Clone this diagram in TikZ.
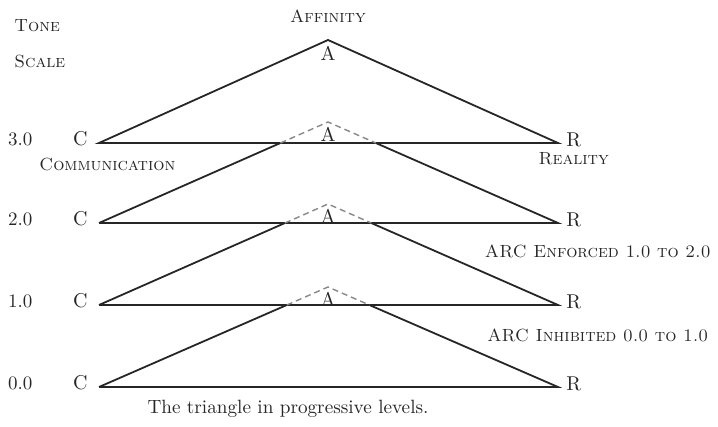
\documentclass[tikz,border=0pt]{standalone}
\usetikzlibrary{positioning}
\definecolor{ink}{gray}{0.15}
\tikzset{
  side/.style={draw=ink, line width=0.9pt},
  hidden/.style={draw=ink!55, line width=0.7pt, dashed, dash pattern=on 3pt off 2pt},
  corner/.style={text=ink, font=\fontsize{10}{12}\selectfont, inner sep=0pt},
  tone/.style={text=ink, font=\fontsize{9.5}{11}\selectfont, inner sep=0pt},
  sclabel/.style={text=ink, font=\fontsize{8.8}{11}\selectfont\scshape, inner sep=0pt},
  caption/.style={text=ink, font=\fontsize{9.6}{12}\selectfont, inner sep=0pt}
}
\begin{document}
\begin{tikzpicture}[x=0.5pt, y=-0.5pt, node distance=5pt]
    \useasboundingbox (0,0) rectangle (718,427);
    % corners of the four triangles
    \coordinate (c3) at (99,143);
    \coordinate (r3) at (558,143);
    \coordinate (a3) at (328,40);
    \coordinate (c2) at (99,223);
    \coordinate (r2) at (558,223);
    \coordinate (a2) at (328,122);
    \coordinate (c1) at (99,305);
    \coordinate (r1) at (558,305);
    \coordinate (a1) at (328,204);
    \coordinate (c0) at (99,387);
    \coordinate (r0) at (558,387);
    \coordinate (a0) at (328,287);
    % where a triangle passes behind the line above it
    \coordinate (p2) at (intersection of c2--a2 and c3--r3);
    \coordinate (q2) at (intersection of r2--a2 and c3--r3);
    \coordinate (p1) at (intersection of c1--a1 and c2--r2);
    \coordinate (q1) at (intersection of r1--a1 and c2--r2);
    \coordinate (p0) at (intersection of c0--a0 and c1--r1);
    \coordinate (q0) at (intersection of r0--a0 and c1--r1);

    \draw[side] (c3) -- (a3) -- (r3) -- cycle;
    \draw[side] (c2) -- (p2) (q2) -- (r2) -- (c2);
    \draw[side] (c1) -- (p1) (q1) -- (r1) -- (c1);
    \draw[side] (c0) -- (p0) (q0) -- (r0) -- (c0);
    \draw[hidden] (p2) -- (a2) -- (q2);
    \draw[hidden] (p1) -- (a1) -- (q1);
    \draw[hidden] (p0) -- (a0) -- (q0);

    \node[corner, left=5.5pt of c3, yshift=2pt] (C3) {C};
    \node[corner, right=4pt of r3, yshift=1.7pt] (R3) {R};
    \node[corner, below=3pt of a3] (A3) {A};
    \node[corner, left=5.5pt of c2, yshift=2pt] (C2) {C};
    \node[corner, right=4pt of r2, yshift=1.7pt] (R2) {R};
    \node[corner, below=2.3pt of a2] (A2) {A};
    \node[corner, left=5.5pt of c1, yshift=2pt] (C1) {C};
    \node[corner, right=4pt of r1, yshift=1.7pt] (R1) {R};
    \node[corner, below=2.3pt of a1] (A1) {A};
    \node[corner, left=5.5pt of c0, yshift=2pt] (C0) {C};
    \node[corner, right=4pt of r0, yshift=1.7pt] (R0) {R};
    \node[corner, below=2.3pt of a0] (A0) {A};

    \node[tone, left=20pt of C3] (n3) {3.0};
    \node[tone, left=20pt of C2] (n2) {2.0};
    \node[tone, left=20pt of C1] (n1) {1.0};
    \node[tone, left=20pt of C0] (n0) {0.0};

    \node[sclabel, anchor=west] (tonelbl) at (14,26) {Tone};
    \node[sclabel, anchor=west] (scalelbl) at (14,61) {Scale};
    \node[sclabel, above=11.5pt of A3] (aff) {Affinity};
    \node[sclabel, below=5.5pt of C3, xshift=13.5pt] (comm) {Communication};
    \node[sclabel, below=2.3pt of R3] (real) {Reality};
    \node[sclabel, below=8.5pt of R2, xshift=12pt] (enf) {ARC Enforced 1.0 to 2.0};
    \node[sclabel, below=9.8pt of R1, xshift=12pt] (inh) {ARC Inhibited 0.0 to 1.0};
    \node[caption] (cap) at (288,409) {The triangle in progressive levels.};
\end{tikzpicture}
\end{document}
